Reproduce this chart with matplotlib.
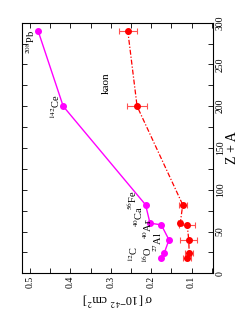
import numpy as np
import matplotlib
matplotlib.use('Agg')
import matplotlib.pyplot as plt
from matplotlib.ticker import MultipleLocator

plt.rcParams['font.family'] = ['Liberation Serif', 'DejaVu Serif']
plt.rcParams['mathtext.fontset'] = 'stix'

# nuclei: Z + A and cross sections (rotated plot: sigma runs horizontally)
nuclei = [r'$^{12}$C', r'$^{16}$O', r'$^{27}$Al', r'$^{40}$Ar', r'$^{40}$Ca', r'$^{56}$Fe', r'$^{142}$Ce', r'$^{208}$Pb']
za = [18, 24, 40, 58, 60, 82, 200, 290]
sigma_mag = [0.177, 0.168, 0.156, 0.175, 0.203, 0.214, 0.418, 0.480]
sigma_kaon = [0.111, 0.106, 0.107, 0.111, 0.128, 0.122, 0.235, 0.258]
err_kaon = [0.010, 0.010, 0.021, 0.020, 0.005, 0.010, 0.025, 0.023]

# label centres (sigma, Z+A)
lab_sig = [0.244, 0.209, 0.184, 0.209, 0.232, 0.247, 0.438, 0.498]
lab_za = [23, 22, 37, 53, 68, 88, 200, 277]

fig = plt.figure(figsize=(2.49, 3.23), dpi=100)
ax = fig.add_axes([0.0884, 0.1539, 0.767, 0.7758])

ax.plot(sigma_mag, za, '-', color='#ff00ff', lw=1.0, marker='o', ms=4, mec='#ff00ff', mfc='#ff00ff')
ax.plot(sigma_kaon, za, '-.', color='#ff0000', lw=0.9, dashes=(4, 1.5, 1, 1.5))
ax.errorbar(sigma_kaon, za, xerr=err_kaon, fmt='o', color='#ff0000', ms=4,
            ecolor='#ff5050', elinewidth=0.8, capsize=2.5, capthick=0.8)

for name, s, z in zip(nuclei, lab_sig, lab_za):
    ax.text(s, z, name, rotation=90, ha='center', va='center', fontsize=7.5)
ax.text(0.312, 227, 'kaon', rotation=90, ha='center', va='center', fontsize=8)

ax.set_xlim(0.52, 0.047)
ax.set_ylim(0, 300)

ax.xaxis.set_minor_locator(MultipleLocator(0.05))
ax.yaxis.set_major_locator(MultipleLocator(50))
ax.yaxis.set_minor_locator(MultipleLocator(25))
ax.set_xticks([0.5, 0.4, 0.3, 0.2, 0.1])
ax.set_xticklabels(['0.5', '0.4', '0.3', '0.2', '0.1'])

ax.tick_params(which='both', direction='in', top=True, bottom=True, left=True, right=True,
               labelleft=False, labelright=True, labelsize=7, width=0.6, pad=2)
ax.tick_params(which='both', length=3.5)
for t in ax.get_xticklabels():
    t.set_rotation(90)
for t in ax.get_yticklabels():
    t.set_rotation(90)
    t.set_va('center')

ax.yaxis.set_label_position('right')
ax.set_ylabel('Z + A', rotation=90, fontsize=10, labelpad=1)
ax.set_xlabel(r'σ [10$^{-42}$ cm$^2$]', rotation=180, fontsize=9, labelpad=2)

for sp in ax.spines.values():
    sp.set_linewidth(0.8)

plt.savefig('out.png', dpi=100)
